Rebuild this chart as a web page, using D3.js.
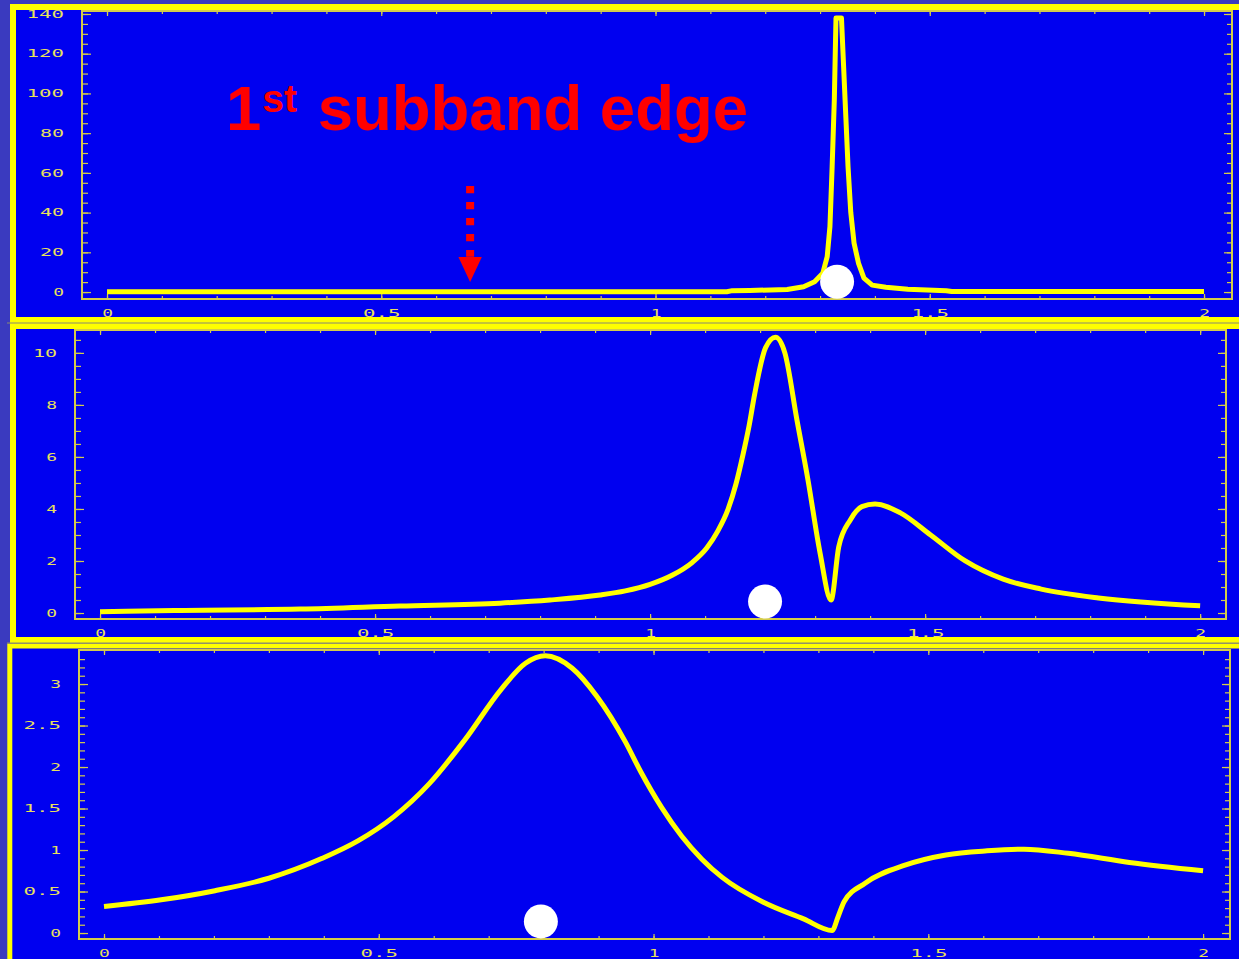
<!DOCTYPE html>
<html>
<head>
<meta charset="utf-8">
<script src="https://cdn.jsdelivr.net/npm/d3@7"></script>
<style>
  body { margin: 0; background: #3a3abf; }
  svg { display: block; }
  .tick text { font-family: "DejaVu Sans Mono", monospace; font-size: 10px; fill: #e8e05c; }
</style>
</head>
<body>
<svg id="chart" width="1239" height="959"></svg>
<script>
// top panel: sharp resonance at the subband edge
const topX = [0, 1.13, 1.14, 1.172, 1.24, 1.27, 1.29, 1.305, 1.313, 1.318, 1.322, 1.326, 1.329, 1.339, 1.343, 1.347, 1.351, 1.356, 1.362, 1.37, 1.38, 1.395, 1.42, 1.46, 1.53, 1.54, 2.0];
const topY = [0.15, 0.15, 0.7, 0.8, 1.3, 2.7, 5.2, 9.5, 17.8, 33, 63, 97, 138, 138, 113, 88, 63, 40, 24.6, 14.6, 7, 3.5, 2.4, 1.4, 0.7, 0.25, 0.25];

// middle panel
const midX = [0, 0.135, 0.364, 0.545, 0.727, 0.818, 0.909, 0.955, 1.0, 1.04, 1.077, 1.103, 1.123, 1.142, 1.156, 1.169, 1.18, 1.19, 1.21, 1.228, 1.245, 1.267, 1.287, 1.309, 1.329, 1.343, 1.364, 1.385, 1.409, 1.455, 1.51, 1.573, 1.642, 1.711, 1.815, 2.0];
const midY = [0.05, 0.1, 0.15, 0.27, 0.38, 0.5, 0.69, 0.85, 1.1, 1.45, 1.95, 2.5, 3.15, 4.0, 4.95, 6.1, 7.2, 8.4, 10.2, 10.6, 10.0, 7.42, 5.12, 2.31, 0.5, 2.55, 3.58, 4.09, 4.19, 3.85, 3.0, 2.0, 1.3, 0.92, 0.58, 0.28];

// bottom panel
const botX = [0, 0.104, 0.202, 0.30, 0.397, 0.462, 0.527, 0.592, 0.657, 0.722, 0.767, 0.803, 0.852, 0.897, 0.949, 0.977, 1.014, 1.051, 1.088, 1.125, 1.2, 1.273, 1.325, 1.336, 1.347, 1.385, 1.459, 1.532, 1.607, 1.674, 1.755, 1.866, 2.0];
const botY = [0.32, 0.40, 0.51, 0.66, 0.90, 1.11, 1.40, 1.80, 2.33, 2.93, 3.25, 3.34, 3.19, 2.85, 2.3, 1.94, 1.52, 1.17, 0.89, 0.67, 0.37, 0.17, 0.03, 0.2, 0.38, 0.6, 0.82, 0.94, 0.99, 1.01, 0.96, 0.85, 0.75];

// white dots, one per panel (data coords)
const markerX = [1.331, 1.209, 0.795];
const markerY = [5.2, 0.44, 0.14];

// tick labels
const xTicks = [0, 0.5, 1, 1.5, 2];
const topYTicks = [0, 20, 40, 60, 80, 100, 120, 140];
const midYTicks = [0, 2, 4, 6, 8, 10];
const botYTicks = [0, 0.5, 1, 1.5, 2, 2.5, 3];

const BLUE = "#0000f0";
const YELLOW = "#ffff00";
const AXIS = "#d4cc4a";

const panels = [
  { frame: { x: 13, y: 7, w: 1250, h: 313, sw: 6 },
    plot: { l: 82, r: 1232, t: 11, b: 299 },
    xDom: [-0.0456, 2.051], yDom: [-3.5, 141.5],
    xs: topX, ys: topY, yTicks: topYTicks, yMinor: 5, yMinorMax: 140,
    curve: d3.curveLinear },
  { frame: { x: 13, y: 326, w: 1250, h: 314, sw: 6 },
    plot: { l: 75, r: 1226, t: 330, b: 619 },
    xDom: [-0.0455, 2.047], yDom: [-0.23, 10.88],
    xs: midX, ys: midY, yTicks: midYTicks, yMinor: 0.5, yMinorMax: 10.5,
    curve: d3.curveMonotoneX },
  { frame: { x: 9.8, y: 646, w: 1250, h: 330, sw: 5 },
    plot: { l: 79, r: 1230, t: 650, b: 939 },
    xDom: [-0.0455, 2.049], yDom: [-0.072, 3.41],
    xs: botX, ys: botY, yTicks: botYTicks, yMinor: 0.1, yMinorMax: 3.3,
    curve: d3.curveMonotoneX }
];

const svg = d3.select("#chart");

// stretched pixel-ish tick labels
function styleLabels(sel) {
  sel.selectAll("text")
    .attr("textLength", function() { return this.textContent.length * 13.3 - 2.5; })
    .attr("lengthAdjust", "spacingAndGlyphs");
}

function noDomain(sel) { sel.select(".domain").remove(); }

// panel backgrounds first
panels.forEach(p => {
  svg.append("rect")
    .attr("x", p.frame.x).attr("y", p.frame.y)
    .attr("width", p.frame.w).attr("height", p.frame.h)
    .attr("fill", BLUE);
});

panels.forEach((p, i) => {
  const x = d3.scaleLinear().domain(p.xDom).range([p.plot.l, p.plot.r]);
  const y = d3.scaleLinear().domain(p.yDom).range([p.plot.b, p.plot.t]);
  const g = svg.append("g").attr("color", AXIS);

  const xMinor = d3.range(0, 2.0001, 0.1);
  const yMinor = d3.range(0, p.yMinorMax + 1e-9, p.yMinor);

  // bottom
  g.append("g").attr("transform", `translate(0,${p.plot.b})`)
    .call(d3.axisBottom(x).tickValues(xMinor).tickSize(-3).tickFormat(""))
    .call(noDomain);
  g.append("g").attr("transform", `translate(0,${p.plot.b})`)
    .call(d3.axisBottom(x).tickValues(xTicks).tickSize(-5).tickPadding(11).tickFormat(d => String(d)))
    .call(noDomain).call(styleLabels);
  // top
  g.append("g").attr("transform", `translate(0,${p.plot.t})`)
    .call(d3.axisTop(x).tickValues(xMinor).tickSize(-3).tickFormat(""))
    .call(noDomain);
  g.append("g").attr("transform", `translate(0,${p.plot.t})`)
    .call(d3.axisTop(x).tickValues(xTicks).tickSize(-5).tickFormat(""))
    .call(noDomain);
  // left
  g.append("g").attr("transform", `translate(${p.plot.l},0)`)
    .call(d3.axisLeft(y).tickValues(yMinor).tickSize(-6).tickFormat(""))
    .call(noDomain);
  g.append("g").attr("transform", `translate(${p.plot.l},0)`)
    .call(d3.axisLeft(y).tickValues(p.yTicks).tickSize(-9).tickPadding(18).tickFormat(d => String(d)))
    .call(noDomain).call(styleLabels);
  // right
  g.append("g").attr("transform", `translate(${p.plot.r},0)`)
    .call(d3.axisRight(y).tickValues(yMinor).tickSize(-5).tickFormat(""))
    .call(noDomain);
  g.append("g").attr("transform", `translate(${p.plot.r},0)`)
    .call(d3.axisRight(y).tickValues(p.yTicks).tickSize(-8).tickFormat(""))
    .call(noDomain);
  g.selectAll("line").attr("stroke-width", 1.2);

  // plot frame
  g.append("rect")
    .attr("x", p.plot.l).attr("y", p.plot.t)
    .attr("width", p.plot.r - p.plot.l).attr("height", p.plot.b - p.plot.t)
    .attr("fill", "none").attr("stroke", AXIS).attr("stroke-width", 2);

  // curve
  const pts = p.xs.map((v, k) => [v, p.ys[k]]);
  g.append("path")
    .datum(pts)
    .attr("fill", "none")
    .attr("stroke", YELLOW)
    .attr("stroke-width", 5)
    .attr("stroke-linejoin", "round")
    .attr("d", d3.line().x(d => x(d[0])).y(d => y(d[1])).curve(p.curve));

  // white dot
  g.append("circle")
    .attr("cx", x(markerX[i])).attr("cy", y(markerY[i]))
    .attr("r", 17).attr("fill", "#ffffff");

  // annotation on the top panel
  if (i === 0) {
    const ax = x(0.662);
    svg.append("line")
      .attr("x1", ax).attr("x2", ax)
      .attr("y1", y(53.4)).attr("y2", y(17.8))
      .attr("stroke", "#ff0000").attr("stroke-width", 8)
      .attr("stroke-dasharray", "7.3 8.7");
    svg.append("path")
      .attr("d", `M${ax - 11.7},${y(17.6)} L${ax + 11.7},${y(17.6)} L${ax},${y(5)} Z`)
      .attr("fill", "#ff0000");

    const t = svg.append("text")
      .attr("x", 226).attr("y", 130)
      .attr("fill", "#ff0000")
      .style("font-family", "'Liberation Sans', Arial, sans-serif")
      .style("font-weight", "bold")
      .style("font-size", "63.5px");
    t.append("tspan").text("1");
    t.append("tspan").attr("dy", -18).attr("dx", 1).style("font-size", "39px").text("st");
    t.append("tspan").attr("dy", 18).attr("dx", 3).text(" subband edge");
  }
});

// yellow frames on top
panels.forEach(p => {
  svg.append("rect")
    .attr("x", p.frame.x).attr("y", p.frame.y)
    .attr("width", p.frame.w).attr("height", p.frame.h)
    .attr("fill", "none")
    .attr("stroke", YELLOW)
    .attr("stroke-width", p.frame.sw);
});

// thin seams between stacked frames
[323, 643].forEach(yy => {
  svg.append("line")
    .attr("x1", 7).attr("x2", 1239)
    .attr("y1", yy).attr("y2", yy)
    .attr("stroke", "#8a8a70").attr("stroke-width", 1);
});
</script>
</body>
</html>
